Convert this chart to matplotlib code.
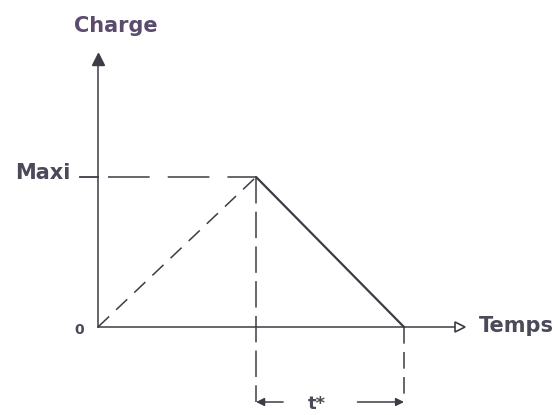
import numpy as np
import matplotlib as mpl
import matplotlib.pyplot as plt

mpl.use("Agg")

plt.rcParams.update({"font.family": "DejaVu Sans"})
plt.rcParams.update({"font.weight": "bold"})
plt.rcParams.update({"lines.scale_dashes": False})

# charge cycle (arbitrary units): ramp up, then linear decrease
temps = [0.0, 5.27, 10.2]
charge = [0.0, 5.0, 0.0]
t_max = temps[1]
t_fin = temps[2]
charge_max = charge[1]

ink = "#3c3c44"
txt = "#4a4a58"

fig = plt.figure(figsize=(5.58, 4.15), dpi=100)
ax = fig.add_axes([0, 0, 1, 1])
ax.set_xlim(-98 / 30, 460 / 30)
ax.set_ylim(-88 / 30, 327 / 30)
ax.axis("off")

# axes with arrows
ax.plot([0, 0], [0, 8.8], color=ink, lw=1.1)
ax.plot([0, 11.9], [0, 0], color=ink, lw=1.1)
ax.plot([0], [8.95], marker="^", ms=8, color=ink, mec=ink)
ax.plot([12.05], [0], marker=">", ms=7, mfc="white", mec=ink, mew=1.2)

# Maxi tick
ax.plot([-0.6, 0], [charge_max, charge_max], color=ink, lw=1.3)

# dashed guides
ax.plot([0.35, t_max], [charge_max, charge_max], color=ink, lw=1.1,
        dashes=(30, 13))
ax.plot(temps[:2], charge[:2], color=ink, lw=1.1, dashes=(11, 7))
ax.plot([t_max, t_max], [charge_max, -2.5], color=ink, lw=1.1,
        dashes=(19, 6))
ax.plot([t_fin, t_fin], [0, -2.5], color=ink, lw=1.1, dashes=(12, 6))

# descending slope
ax.plot(temps[1:], charge[1:], color=ink, lw=1.6, solid_capstyle="round")

# t* bracket
ax.annotate("", xy=(t_max, -2.5), xytext=(t_max + 0.9, -2.5),
            arrowprops=dict(arrowstyle="-|>", color=ink, lw=1.1,
                            mutation_scale=12, shrinkA=0, shrinkB=0))
ax.annotate("", xy=(t_fin, -2.5), xytext=(t_fin - 1.55, -2.5),
            arrowprops=dict(arrowstyle="-|>", color=ink, lw=1.1,
                            mutation_scale=12, shrinkA=0, shrinkB=0))
ax.text((t_max + t_fin) / 2 - 0.45, -2.55, "t*", fontsize=13, color=txt,
        ha="center", va="center")

# labels
ax.text(0.6, 10.05, "Charge", fontsize=15, color="#5a4c6c",
        ha="center", va="center")
ax.text(-0.9, charge_max + 0.12, "Maxi", fontsize=15, color=txt,
        ha="right", va="center")
ax.text(-0.45, -0.1, "0", fontsize=10, color=txt, ha="right", va="center")
ax.text(12.7, 0.05, "Temps", fontsize=15, color=txt, ha="left",
        va="center")

plt.savefig("out.png", dpi=100)
